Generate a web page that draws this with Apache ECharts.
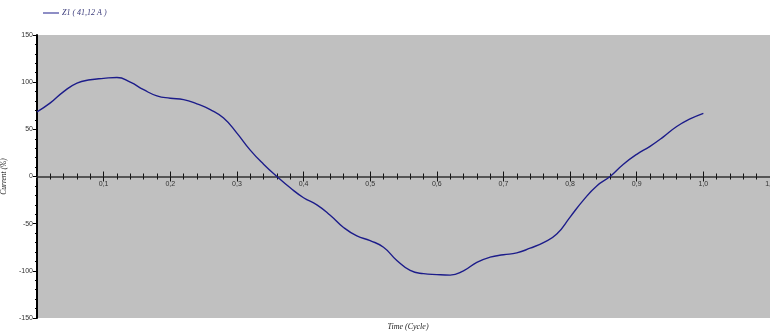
<!DOCTYPE html>
<html><head><meta charset="utf-8">
<script src="https://cdn.jsdelivr.net/npm/echarts@6/dist/echarts.min.js"></script>
<style>html,body{margin:0;padding:0;background:#fff}#c{width:770px;height:333px}</style>
</head><body><div id="c"></div>
<script>
var seriesName = 'Z1 ( 41,12 A )';
var timeCycle = [0,0.02,0.04,0.06,0.08,0.10,0.12,0.14,0.16,0.18,0.20,0.22,0.24,0.26,0.28,0.30,0.32,0.34,0.36,0.38,0.40,0.42,0.44,0.46,0.48,0.50,0.52,0.54,0.56,0.58,0.60,0.62,0.64,0.66,0.68,0.70,0.72,0.74,0.76,0.78,0.80,0.82,0.84,0.86,0.88,0.90,0.92,0.94,0.96,0.98,1.00];
var currentPct = [68.5,78,90,99,102.5,104,105,100,92,85.5,83,81.5,77,71,62,46,28,13,0,-12,-22.5,-30,-41,-54,-63,-68,-75,-89,-99.5,-103,-104,-104.5,-100,-91,-85.5,-83,-81,-76,-70,-61,-43,-25,-10,0,13,23.5,32,42,53,61,67];
var yTicks = [-150,-100,-50,0,50,100,150];

var chart = echarts.init(document.getElementById('c'));
var fmtX = function(v){ if (Math.abs(v) < 1e-9) return ''; return v.toFixed(1).replace('.', ','); };
var gridTop = 35, gridBottom = 15, gridH = 333 - gridTop - gridBottom;
function xAxisCfg(pos, showLabel) {
  return {
    type: 'value', min: 0, max: 1.1, interval: 0.1, position: pos,
    splitLine: {show: false},
    minorTick: {show: true, splitNumber: 5, length: 3, lineStyle: {color: '#111', width: 1}},
    axisTick: {show: true, length: 5, lineStyle: {color: '#111', width: 1}},
    axisLabel: showLabel ? {formatter: fmtX, fontFamily: 'Liberation Sans', fontSize: 7, color: '#333', margin: 4, showMaxLabel: true} : {show: false}
  };
}
var xBottom = xAxisCfg('bottom', true);
xBottom.offset = -gridH / 2;
xBottom.axisLine = {onZero: false, lineStyle: {color: '#555', width: 2}};
var xTop = xAxisCfg('top', false);
xTop.axisLine = {onZero: true, onZeroAxisIndex: 1, lineStyle: {color: '#555', width: 2}};

chart.setOption({
  animation: false,
  backgroundColor: '#fff',
  grid: {left: 37, right: 0, top: gridTop, bottom: gridBottom, show: true, backgroundColor: '#c0c0c0', borderWidth: 0, outerBoundsMode: 'none', containLabel: false},
  legend: {
    left: 38, top: 4, itemWidth: 16, itemHeight: 8, itemGap: 6, icon: 'path://M0,4 L16,4 L16,5 L0,5 Z',
    textStyle: {fontFamily: 'Liberation Serif', fontStyle: 'italic', fontSize: 8, color: '#3a3a7a', padding: [0, 0, 0, -2]},
    data: [seriesName]
  },
  title: {
    text: 'Time (Cycle)', left: 403, top: 318, textAlign: 'center',
    textStyle: {fontFamily: 'Liberation Serif', fontStyle: 'italic', fontWeight: 'normal', fontSize: 8, color: '#222'}
  },
  xAxis: [ xBottom, xTop ],
  yAxis: [{
    type: 'value', min: -150, max: 150, interval: 50, position: 'left',
    name: 'Current (%)', nameLocation: 'middle', nameGap: 24, nameRotate: 90,
    nameTextStyle: {fontFamily: 'Liberation Serif', fontStyle: 'italic', fontSize: 7.5, color: '#222'},
    axisLine: {show: true, onZero: false, lineStyle: {color: '#000', width: 2}},
    axisTick: {show: true, length: 4, lineStyle: {color: '#000'}},
    minorTick: {show: true, splitNumber: 5, length: 2, lineStyle: {color: '#000'}},
    splitLine: {show: false},
    axisLabel: {fontFamily: 'Liberation Sans', fontSize: 7, color: '#333', margin: 4,
      formatter: function(v){ return yTicks.indexOf(v) >= 0 ? String(v) : ''; }}
  }, {
    type: 'value', min: -150, max: 150, interval: 50, position: 'right',
    axisLine: {show: false, onZero: false}, axisTick: {show: false}, axisLabel: {show: false}, splitLine: {show: false}
  }],
  series: [{
    name: seriesName, type: 'line', smooth: true, showSymbol: false, xAxisIndex: 0, yAxisIndex: 0,
    lineStyle: {color: '#1c1c8a', width: 1.4}, itemStyle: {color: '#1c1c8a'},
    data: timeCycle.map(function(t, i){ return [t, currentPct[i]]; })
  }]
});
</script></body></html>
